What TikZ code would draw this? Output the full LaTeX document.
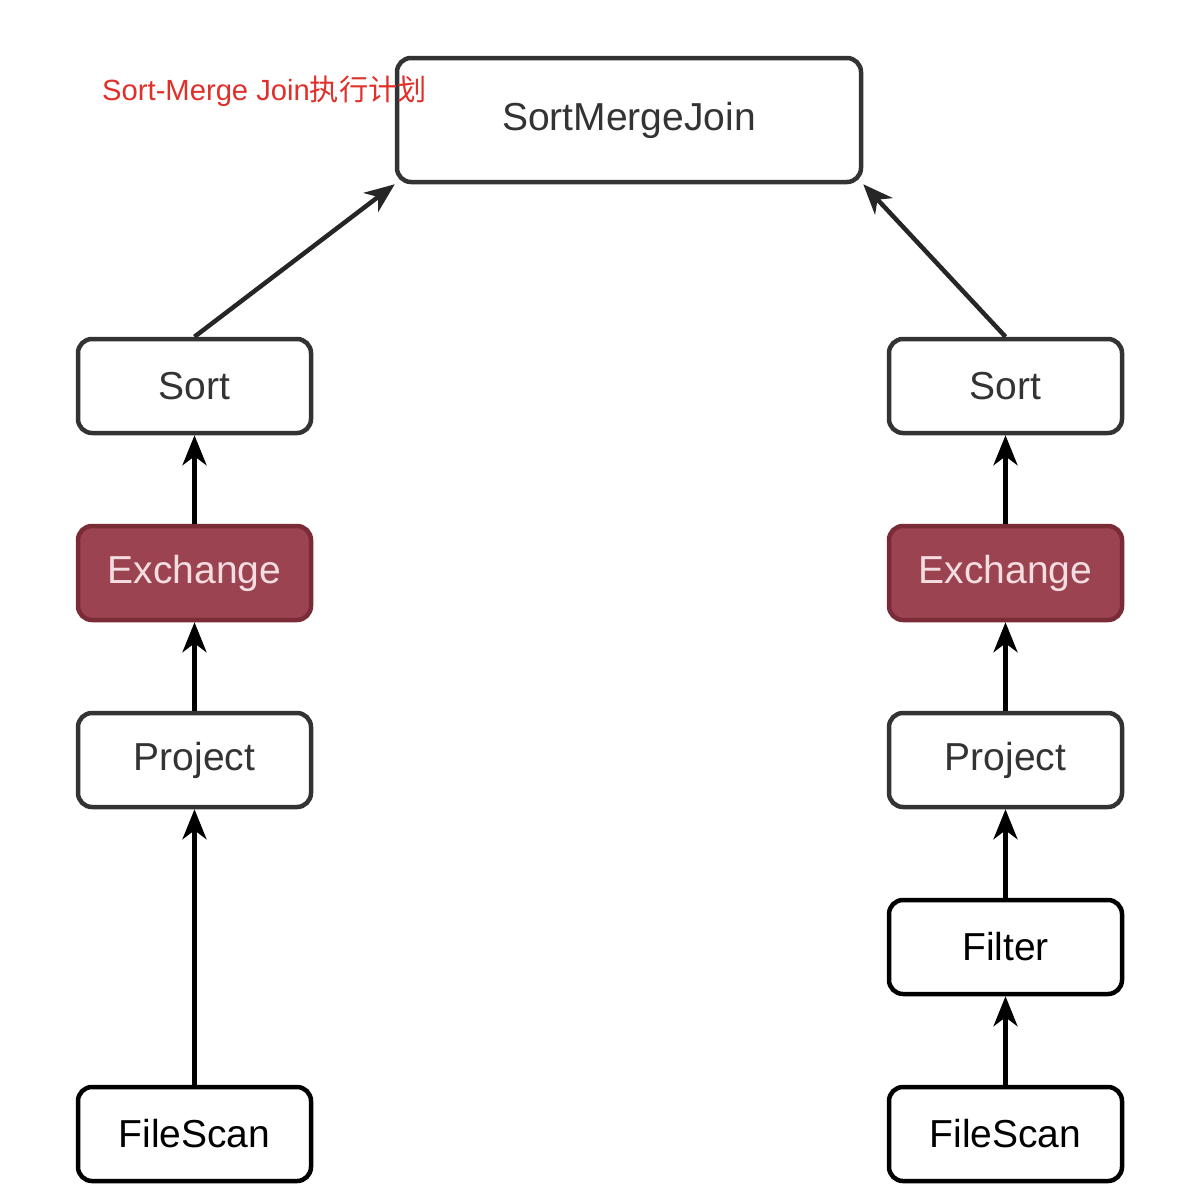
\documentclass[tikz,border=0pt]{standalone}
\usepackage{fontspec}
\setmainfont{Liberation Sans}
\newfontfamily\cjk{Noto Sans CJK SC}
\usetikzlibrary{arrows.meta}
\definecolor{boxgray}{HTML}{333333}
\definecolor{exfill}{HTML}{9C4351}
\definecolor{exdraw}{HTML}{7A2C36}
\definecolor{extext}{HTML}{F3DDE1}
\definecolor{titlered}{HTML}{E0302A}
\begin{document}
\begin{tikzpicture}[x=1pt,y=-1pt,
  opbox/.style={draw=boxgray, line width=4.5pt, rounded corners=14pt, fill=white,
    minimum width=233pt, minimum height=94pt, inner sep=0pt, text=boxgray,
    font=\fontsize{39}{44}\selectfont},
  darkbox/.style={opbox, draw=black, text=black},
  exbox/.style={opbox, draw=exdraw, fill=exfill, text=extext},
  uparrow/.style={line width=4.5pt, black, -{Stealth[length=30pt,width=24pt,inset=9pt]}},
  diagarrow/.style={uparrow, draw=black!85}
]
\useasboundingbox (0,0) rectangle (1192,1202);
\fill[white] (0,0) rectangle (1192,1202);

\node[opbox, minimum width=464pt, minimum height=124pt] (smj) at (629,120) {SortMergeJoin};

\node[anchor=base west, text=titlered, font=\fontsize{29.2}{33}\selectfont, inner sep=0pt] (title) at (102,100) {Sort-Merge Join{\cjk 执行计划}};

\node[opbox] (lsort) at (194.5,386) {Sort};
\node[exbox] (lex) at (194.5,573) {Exchange};
\node[opbox] (lproj) at (194.5,760) {Project};
\node[darkbox] (lscan) at (194.5,1134) {FileScan};

\node[opbox] (rsort) at (1005.5,386) {Sort};
\node[exbox] (rex) at (1005.5,573) {Exchange};
\node[opbox] (rproj) at (1005.5,760) {Project};
\node[darkbox] (rfilt) at (1005.5,947) {Filter};
\node[darkbox] (rscan) at (1005.5,1134) {FileScan};

\draw[diagarrow] (lsort.north) -- (smj.south west);
\draw[diagarrow] (rsort.north) -- (smj.south east);

\draw[uparrow] (lex.north) -- (lsort.south);
\draw[uparrow] (lproj.north) -- (lex.south);
\draw[uparrow] (lscan.north) -- (lproj.south);

\draw[uparrow] (rex.north) -- (rsort.south);
\draw[uparrow] (rproj.north) -- (rex.south);
\draw[uparrow] (rfilt.north) -- (rproj.south);
\draw[uparrow] (rscan.north) -- (rfilt.south);
\end{tikzpicture}
\end{document}
